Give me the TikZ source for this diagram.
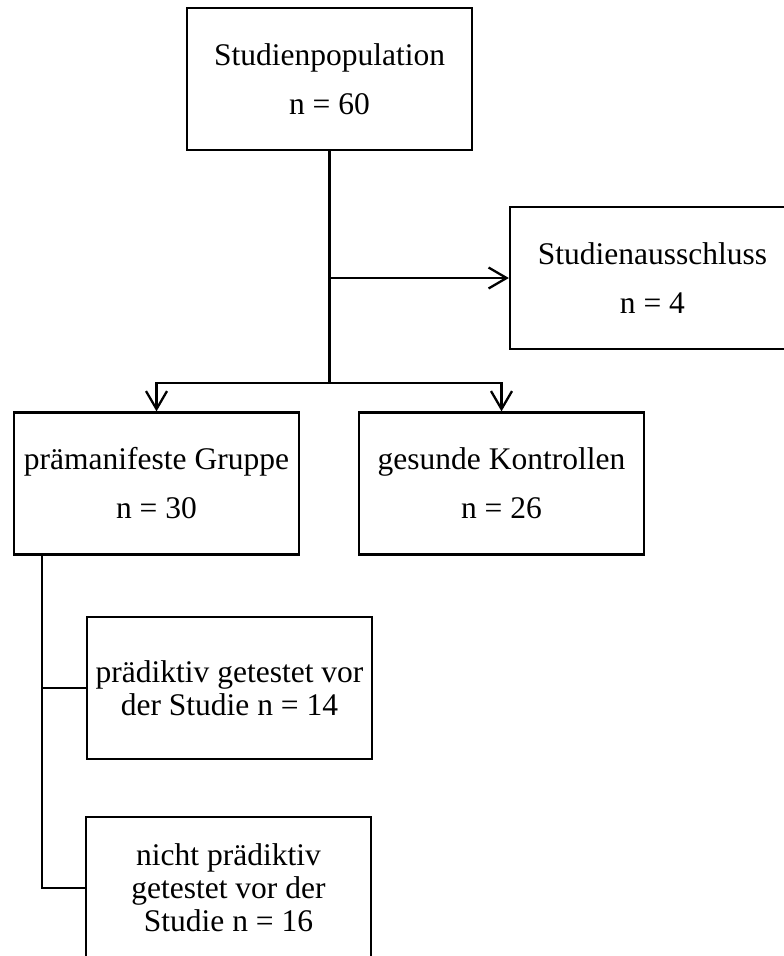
\documentclass[tikz,border=0pt]{standalone}
\usepackage{fontspec}
\setmainfont{Liberation Serif}
\usepackage{tikz}
\usetikzlibrary{arrows.meta,positioning,calc}
\newcommand{\gap}{\\[16pt]}

\begin{document}
\begin{tikzpicture}[x=1pt,y=-1pt,
  bx/.style={draw,line width=2.3pt,align=center,
    font=\fontsize{31.5}{33}\selectfont,minimum width=285pt,
    minimum height=142pt,inner sep=2pt},
  ln/.style={line width=2.3pt},
  arr/.style={ln,-{Straight Barb[length=18pt,width=21pt,line width=2.3pt]}}]

  \useasboundingbox (0,0) rectangle (784,956);

  \node[bx] (pop) at (329.5,79) {Studienpopulation\gap n = 60};
  \node[bx] (aus) at (652.5,278) {Studienausschluss\gap n = 4};
  \node[bx] (pm) at (156.5,483.5) {prämanifeste Gruppe\gap n = 30};
  \node[bx] (gk) at (501.5,483.5) {gesunde Kontrollen\gap n = 26};
  \node[bx] (pt) at (229.5,688) {prädiktiv getestet vor\\der Studie n = 14};
  \node[bx] (npt) at (228.5,888) {nicht prädiktiv\\getestet vor der\\Studie n = 16};

  \coordinate (split) at (329.5,383);
  \coordinate (tk) at (42,554);

  % stem with exclusion branch
  \draw[ln] (pop.south) -- (split);
  \draw[arr] (pop.south |- aus.west) -- (aus.west);
  \draw[arr] (split) -| (pm.north);
  \draw[arr] (split) -| (gk.north);

  % sub groups
  \draw[ln] (tk) |- (npt.west);
  \draw[ln] (tk |- pt.west) -- (pt.west);
\end{tikzpicture}
\end{document}
